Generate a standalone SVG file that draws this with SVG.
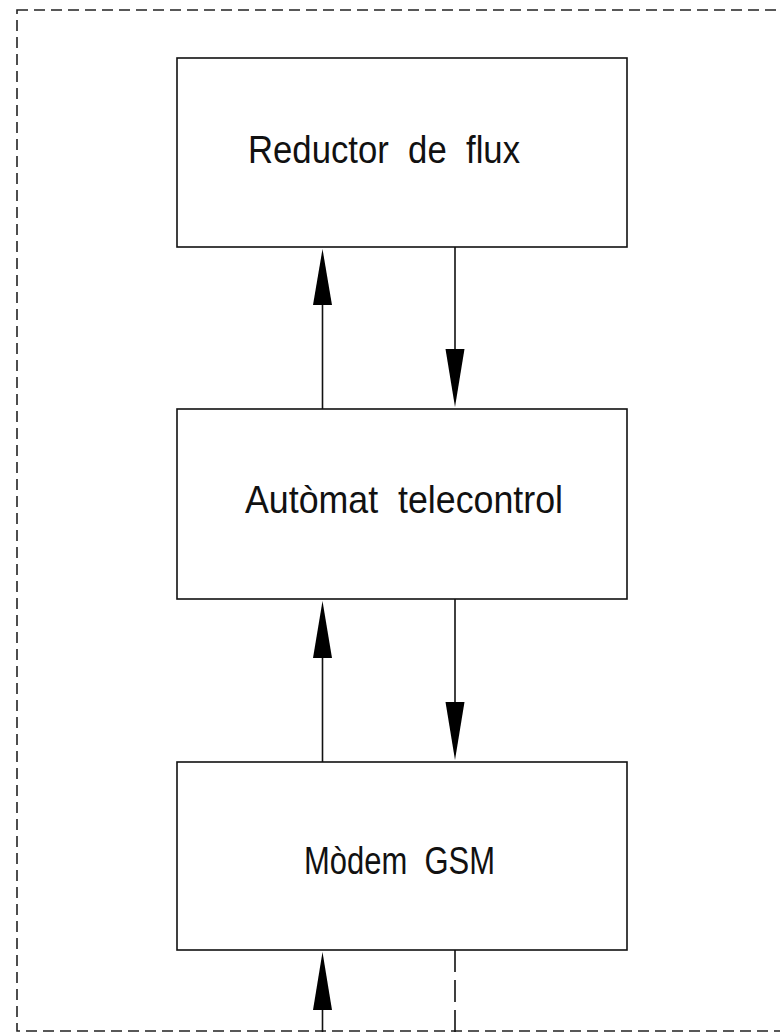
<svg xmlns="http://www.w3.org/2000/svg" width="780" height="1032" viewBox="0 0 780 1032">
<style>
.box{fill:#fff;stroke:#111;stroke-width:1.6}
.lbl{font-family:"Liberation Sans",Arial,sans-serif;font-size:39px;fill:#111;white-space:pre}
.ln{stroke:#111;stroke-width:1.6;fill:none}
.hd{fill:#000;stroke:none}
.frame{fill:none;stroke:#222;stroke-width:1.6;stroke-dasharray:11 6}
</style>
<rect width="780" height="1032" fill="#fff"/>
<rect class="frame" x="17" y="10" width="800" height="1021"/>
<g id="node-reductor">
<rect class="box" x="177" y="58" width="450" height="189"/>
<text class="lbl" x="248" y="163" textLength="272" lengthAdjust="spacingAndGlyphs" xml:space="preserve">Reductor  de  flux</text>
</g>
<g id="node-automat">
<rect class="box" x="177" y="409" width="450" height="190"/>
<text class="lbl" x="245" y="513" textLength="318" lengthAdjust="spacingAndGlyphs" xml:space="preserve">Autòmat  telecontrol</text>
</g>
<g id="node-modem">
<rect class="box" x="177" y="762" width="450" height="188"/>
<text class="lbl" x="304" y="874" textLength="191" lengthAdjust="spacingAndGlyphs" xml:space="preserve">Mòdem  GSM</text>
</g>
<g id="connectors">
<line class="ln" x1="322.5" y1="409" x2="322.5" y2="300"/>
<polygon class="hd" points="322.5,249 313,305 332,305"/>
<line class="ln" x1="455" y1="247" x2="455" y2="355"/>
<polygon class="hd" points="455,407 445.5,349 464.5,349"/>
<line class="ln" x1="322.5" y1="762" x2="322.5" y2="650"/>
<polygon class="hd" points="322.5,601 313,658 332,658"/>
<line class="ln" x1="455" y1="599" x2="455" y2="705"/>
<polygon class="hd" points="455,760 445.5,702 464.5,702"/>
<line class="ln" x1="322.5" y1="1032" x2="322.5" y2="1000"/>
<polygon class="hd" points="322.5,952 313,1010 332,1010"/>
<line class="ln" x1="455" y1="950" x2="455" y2="1032" stroke-dasharray="22 8"/>
</g>
</svg>
